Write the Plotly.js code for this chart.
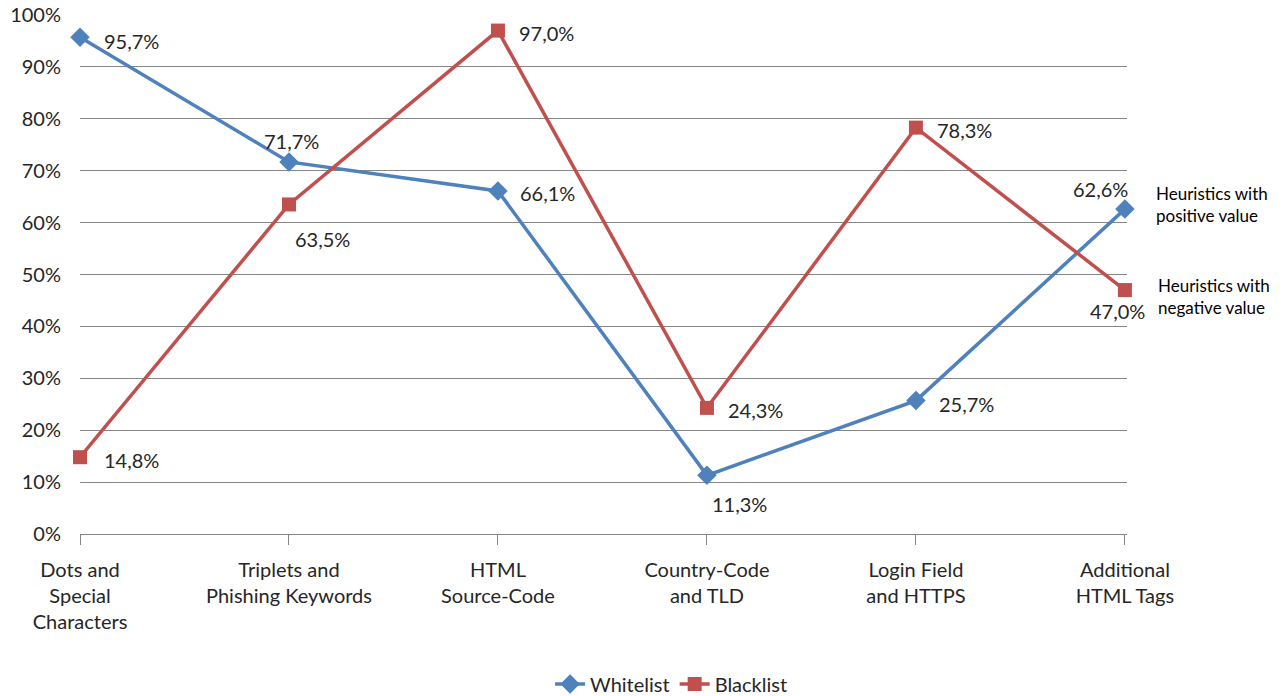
<!DOCTYPE html>
<html><head><meta charset="utf-8">
<script src="https://cdn.plot.ly/plotly-3.0.1.min.js"></script>
<style>body{margin:0;background:#fff}#c{width:1288px;height:696px}</style>
</head><body><div id="c"></div>
<script>
const categories = ["Dots and<br>Special<br>Characters","Triplets and<br>Phishing Keywords","HTML<br>Source-Code","Country-Code<br>and TLD","Login Field<br>and HTTPS","Additional<br>HTML Tags"];
const whitelist = [0.957, 0.717, 0.661, 0.113, 0.257, 0.626];
const blacklist = [0.148, 0.635, 0.970, 0.243, 0.783, 0.470];
// label offsets in pixels (dx right, dy down) — presentation only
const whiteOff = [[51,4],[3,-21],[50,2],[33,29],[51,3],[-24,-20]];
const blackOff = [[51,3],[34,35],[49,2],[49,2],[49,2],[-7,21]];
const fmt = v => (v*100).toFixed(1).replace('.', ',') + '%';
const idx = categories.map((c,i)=>i);
const FF = "Lato, 'Open Sans', sans-serif";
const font = {family:FF, size:20, color:"#262626"};
const traces = [
 {x:idx, y:whitelist, name:"Whitelist", type:"scatter", mode:"lines+markers",
  line:{color:"#4F81BD", width:3.5}, marker:{symbol:"diamond", size:15, color:"#4F81BD"}, cliponaxis:false},
 {x:idx, y:blacklist, name:"Blacklist", type:"scatter", mode:"lines+markers",
  line:{color:"#C0504D", width:3.5}, marker:{symbol:"square", size:14, color:"#C0504D"}, cliponaxis:false}
];
const labels = [];
[[whitelist, whiteOff],[blacklist, blackOff]].forEach(([vals, off]) => {
  vals.forEach((v,i) => labels.push({x:i, y:v, xref:"x", yref:"y", text:fmt(v), showarrow:false,
    xshift:off[i][0], yshift:-off[i][1], xanchor:"center", yanchor:"middle", font:font}));
});
labels.push(
  {xref:"paper", yref:"paper", x:1.0, y:0.634, xanchor:"left", yanchor:"middle", align:"left", xshift:27,
   text:"Heuristics with<br>positive value", showarrow:false, font:{family:FF, size:17, color:"#000"}},
  {xref:"paper", yref:"paper", x:1.0, y:0.457, xanchor:"left", yanchor:"middle", align:"left", xshift:29,
   text:"Heuristics with<br>negative value", showarrow:false, font:{family:FF, size:17, color:"#000"}}
);
const layout = {
 width:1288, height:696, autosize:false, margin:{l:80, r:161, t:15, b:162, autoexpand:false},
 paper_bgcolor:"#fff", plot_bgcolor:"#fff", font:font, showlegend:true,
 xaxis:{tickmode:"array", tickvals:idx, ticktext:categories, range:[0,5.01], automargin:false, tickangle:0,
  showgrid:false, zeroline:false, showline:true, linecolor:"#868686", linewidth:1,
  ticks:"outside", ticklen:10, tickcolor:"#868686", tickfont:font, ticklabelstandoff:8},
 yaxis:{range:[0,1], tickvals:[0,0.1,0.2,0.3,0.4,0.5,0.6,0.7,0.8,0.9,1], tickformat:".0%", automargin:false,
  showgrid:true, gridcolor:"#868686", gridwidth:1, zeroline:false, showline:false,
  ticks:"", ticklabelstandoff:18, tickfont:font},
 legend:{orientation:"h", x:0.565, xanchor:"center", y:-0.289, yanchor:"middle", font:font},
 annotations:labels
};
Plotly.newPlot("c", traces, layout, {displayModeBar:false});
</script></body></html>
